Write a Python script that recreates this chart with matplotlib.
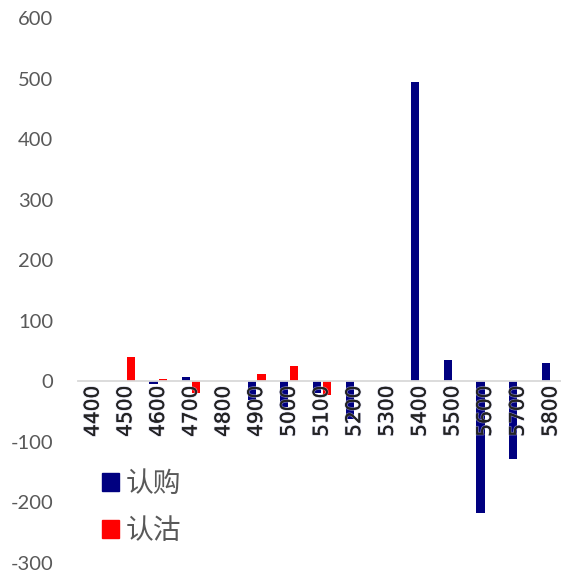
import matplotlib.pyplot as plt
import matplotlib.patheffects as pe
import numpy as np
from matplotlib.patches import Patch

STRIKES = ['4400', '4500', '4600', '4700', '4800', '4900', '5000', '5100',
           '5200', '5300', '5400', '5500', '5600', '5700', '5800']
CALL = [0, 0, -4, 7, 0, -31, -43, -19, -62, 0, 495, 36, -218, -128, 30]
PUT = [0, 41, 4, -19, 0, 12, 25, -23, 0, 0, 0, 0, 0, 0, 0]
Y_TICKS = [-300, -200, -100, 0, 100, 200, 300, 400, 500, 600]

BAR_WIDTH = 0.25
GRAY = '#595959'


def main():
    fig = plt.figure(figsize=(5.61, 5.73), dpi=100)
    W, H = 561, 573
    ax = fig.add_axes([78 / W, 1 - 563 / H, (W - 78) / W, (563 - 18) / H])

    # move the category axis to y=0 before styling ticks (this resets them)
    for s in ['left', 'right', 'top']:
        ax.spines[s].set_visible(False)
    ax.spines['bottom'].set_position(('data', 0))
    ax.spines['bottom'].set_color('#d9d9d9')
    ax.spines['bottom'].set_linewidth(1.3)

    x = np.arange(len(STRIKES))
    # bars stay under the strike labels
    ax.bar(x - 0.15, CALL, width=BAR_WIDTH, color='#000080', zorder=1)
    ax.bar(x + 0.15, PUT, width=BAR_WIDTH, color='#ff0000', zorder=1)

    ax.set_xlim(-0.46, 14.31)
    ax.set_ylim(-300, 600)
    ax.set_yticks(Y_TICKS)
    ax.set_yticklabels([str(v) for v in Y_TICKS], fontsize=14.5, family='Lato', color=GRAY)
    ax.set_xticks(x)
    ax.set_xticklabels(STRIKES, rotation=90, fontsize=14.5, family='DejaVu Sans', color='#222222')
    # faint halo keeps strike labels readable where they cross a bar
    for t in ax.get_xticklabels():
        t.set_path_effects([pe.withStroke(linewidth=1.2, foreground='#c0c0dc', alpha=0.6),
                            pe.Normal()])

    ax.tick_params(axis='both', length=0)
    ax.tick_params(axis='y', pad=18)
    ax.tick_params(axis='x', pad=3)

    handles = [Patch(color='#000080', label='认购'), Patch(color='#ff0000', label='认沽')]
    leg = ax.legend(handles=handles, loc='upper left', bbox_to_anchor=(102 / W, 1 - 469 / H),
                    bbox_transform=fig.transFigure, frameon=False,
                    prop={'family': 'Noto Sans CJK SC', 'size': 20, 'weight': 'medium'},
                    handlelength=0.6, handleheight=0.6, handletextpad=0.25,
                    labelspacing=0.6, borderpad=0, borderaxespad=0)
    for t in leg.get_texts():
        t.set_color(GRAY)

    fig.savefig('out.png', dpi=100)


if __name__ == '__main__':
    main()
